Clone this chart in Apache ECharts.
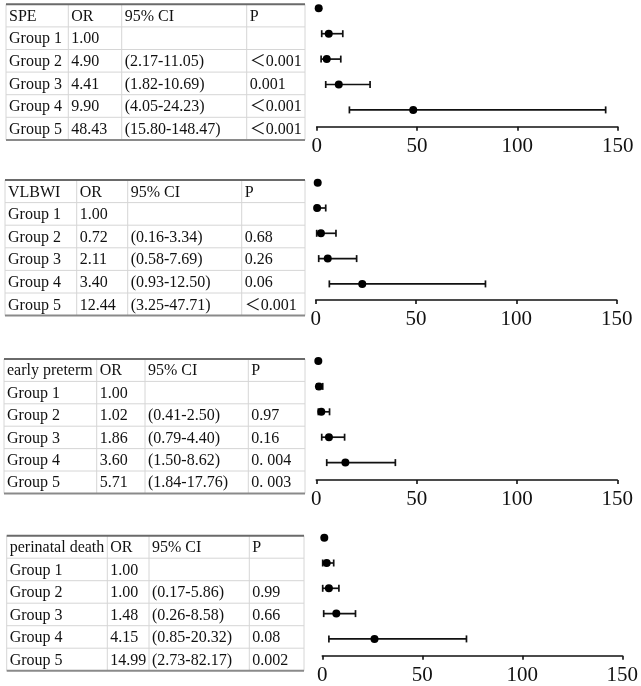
<!DOCTYPE html>
<html>
<head>
<meta charset="utf-8">
<script src="https://cdn.jsdelivr.net/npm/echarts@6/dist/echarts.min.js"></script>
<style>
html,body{margin:0;padding:0;background:#fff;}
#chart{width:641px;height:686px;}
</style>
</head>
<body>
<div id="chart"></div>
<script>
// ---------- DATA ----------
const groups = ['Group 1', 'Group 2', 'Group 3', 'Group 4', 'Group 5'];
const headerCols = ['OR', '95% CI', 'P'];
const xTicks = [0, 50, 100, 150];

// SPE
const speTitle = 'SPE';
const speOR = ['1.00', '4.90', '4.41', '9.90', '48.43'];
const speCI = ['', '(2.17-11.05)', '(1.82-10.69)', '(4.05-24.23)', '(15.80-148.47)'];
const speP = ['', '＜0.001', '0.001', '＜0.001', '＜0.001'];
const speEst = [1.0, 6.0, 5.0, 11.0, 48.1];
const speLow = [null, 2.5, 2.2, 4.5, 16.3];
const speHigh = [null, 13.0, 12.0, 26.6, 144.0];

// VLBWI
const vlbwiTitle = 'VLBWI';
const vlbwiOR = ['1.00', '0.72', '2.11', '3.40', '12.44'];
const vlbwiCI = ['', '(0.16-3.34)', '(0.58-7.69)', '(0.93-12.50)', '(3.25-47.71)'];
const vlbwiP = ['', '0.68', '0.26', '0.06', '＜0.001'];
const vlbwiEst = [1.0, 0.7, 2.6, 6.0, 23.2];
const vlbwiLow = [null, 0.3, 0.5, 1.5, 6.8];
const vlbwiHigh = [null, 5.0, 10.1, 20.4, 84.6];

// early preterm
const eptTitle = 'early preterm';
const eptOR = ['1.00', '1.02', '1.86', '3.60', '5.71'];
const eptCI = ['', '(0.41-2.50)', '(0.79-4.40)', '(1.50-8.62)', '(1.84-17.76)'];
const eptP = ['', '0.97', '0.16', '0. 004', '0. 003'];
const eptEst = [1.0, 1.3, 2.5, 6.3, 14.5];
const eptLow = [null, 0.3, 1.0, 2.7, 5.2];
const eptHigh = [null, 3.2, 6.6, 14.1, 39.4];

// perinatal death
const pdTitle = 'perinatal death';
const pdOR = ['1.00', '1.00', '1.48', '4.15', '14.99'];
const pdCI = ['', '(0.17-5.86)', '(0.26-8.58)', '(0.85-20.32)', '(2.73-82.17)'];
const pdP = ['', '0.99', '0.66', '0.08', '0.002'];
const pdEst = [1.0, 2.2, 3.3, 7.0, 26.1];
const pdLow = [null, 0.2, 0.2, 0.7, 3.3];
const pdHigh = [null, 5.7, 8.3, 16.6, 72.1];

// ---------- LAYOUT ----------
const FONT = '"Liberation Serif", "Times New Roman", "Noto Sans CJK SC", serif';
const panels = [
  {title: speTitle, or: speOR, ci: speCI, p: speP, est: speEst, low: speLow, high: speHigh,
   tTop: 4.3, rowH: 22.6, tLeft: 6, cols: [68.3, 121.7, 246.7], tRight: 305,
   x0: 316.7, x1: 617.7, row0: 8.3, spacing: 25.4, axisY: 126.7},
  {title: vlbwiTitle, or: vlbwiOR, ci: vlbwiCI, p: vlbwiP, est: vlbwiEst, low: vlbwiLow, high: vlbwiHigh,
   tTop: 180, rowH: 22.6, tLeft: 5, cols: [76.7, 127.7, 241.7], tRight: 305,
   x0: 315.7, x1: 616.7, row0: 182.7, spacing: 25.3, axisY: 300},
  {title: eptTitle, or: eptOR, ci: eptCI, p: eptP, est: eptEst, low: eptLow, high: eptHigh,
   tTop: 359, rowH: 22.4, tLeft: 4, cols: [96.7, 145, 248.3], tRight: 305,
   x0: 316.3, x1: 617.3, row0: 361, spacing: 25.4, axisY: 480},
  {title: pdTitle, or: pdOR, ci: pdCI, p: pdP, est: pdEst, low: pdLow, high: pdHigh,
   tTop: 535.7, rowH: 22.5, tLeft: 6.7, cols: [107.3, 149, 249.3], tRight: 304,
   x0: 322.3, x1: 623.3, row0: 537.7, spacing: 25.3, axisY: 655.7}
];

const chart = echarts.init(document.getElementById('chart'), null, {renderer: 'canvas'});

const grids = [], xAxes = [], yAxes = [], series = [], graphics = [];

panels.forEach((pn, k) => {
  // ----- table -----
  const nRows = groups.length + 1;
  const tBottom = pn.tTop + pn.rowH * nRows;
  for (let r = 1; r < nRows; r++) {
    const y = pn.tTop + pn.rowH * r;
    graphics.push({type: 'line', shape: {x1: pn.tLeft, y1: y, x2: pn.tRight, y2: y},
      style: {stroke: '#d6d6d6', lineWidth: 1}, silent: true});
  }
  [pn.tLeft].concat(pn.cols, [pn.tRight]).forEach(x => {
    graphics.push({type: 'line', shape: {x1: x, y1: pn.tTop, x2: x, y2: tBottom},
      style: {stroke: '#d6d6d6', lineWidth: 1}, silent: true});
  });
  graphics.push({type: 'line', shape: {x1: pn.tLeft, y1: pn.tTop, x2: pn.tRight, y2: pn.tTop},
    style: {stroke: '#6a6a6a', lineWidth: 2}, silent: true});
  graphics.push({type: 'line', shape: {x1: pn.tLeft, y1: tBottom, x2: pn.tRight, y2: tBottom},
    style: {stroke: '#8a8a8a', lineWidth: 2}, silent: true});
  const colX = [pn.tLeft].concat(pn.cols);
  const rowsText = [[pn.title].concat(headerCols)];
  groups.forEach((g, i) => rowsText.push([g, pn.or[i], pn.ci[i], pn.p[i]]));
  rowsText.forEach((row, r) => {
    const cy = pn.tTop + pn.rowH * (r + 0.5);
    row.forEach((txt, c) => {
      if (!txt) return;
      graphics.push({type: 'text', x: colX[c] + 3, y: cy + 1,
        style: {text: txt, fill: '#111', font: '16px ' + FONT, textVerticalAlign: 'middle', textAlign: 'left'},
        silent: true});
    });
  });

  // ----- forest plot -----
  grids.push({left: pn.x0, width: pn.x1 - pn.x0, top: pn.row0, height: pn.axisY - pn.row0, containLabel: false});
  xAxes.push({type: 'value', gridIndex: k, position: 'bottom',
    min: xTicks[0], max: xTicks[xTicks.length - 1], interval: xTicks[1] - xTicks[0],
    axisLine: {show: true, onZero: false, lineStyle: {color: '#111', width: 1.6}},
    axisTick: {show: true, length: 4, lineStyle: {color: '#111', width: 1.6}},
    axisLabel: {color: '#111', fontSize: 21, fontFamily: FONT, margin: 9},
    splitLine: {show: false}});
  yAxes.push({type: 'value', gridIndex: k, inverse: true, min: 0, max: (pn.axisY - pn.row0) / pn.spacing,
    show: false, splitLine: {show: false}});
  const barData = [];
  groups.forEach((g, i) => {
    if (pn.low[i] != null) barData.push([pn.low[i], pn.high[i], i]);
  });
  series.push({
    type: 'custom', xAxisIndex: k, yAxisIndex: k, clip: false, silent: true,
    data: barData,
    encode: {x: [0, 1], y: 2},
    renderItem: function (params, api) {
      const a = api.coord([api.value(0), api.value(2)]);
      const b = api.coord([api.value(1), api.value(2)]);
      const h = 3.5;
      const st = {stroke: '#111', lineWidth: 1.7};
      return {type: 'group', children: [
        {type: 'line', shape: {x1: a[0], y1: a[1], x2: b[0], y2: b[1]}, style: st},
        {type: 'line', shape: {x1: a[0], y1: a[1] - h, x2: a[0], y2: a[1] + h}, style: st},
        {type: 'line', shape: {x1: b[0], y1: b[1] - h, x2: b[0], y2: b[1] + h}, style: st}
      ]};
    }
  });
  series.push({
    type: 'scatter', xAxisIndex: k, yAxisIndex: k, clip: false, silent: true,
    symbol: 'circle', symbolSize: 8, itemStyle: {color: '#000', opacity: 1},
    data: pn.est.map((v, i) => [v, i]), z: 3
  });
});

chart.setOption({
  animation: false,
  backgroundColor: '#fff',
  grid: grids, xAxis: xAxes, yAxis: yAxes, series: series,
  graphic: graphics
});
</script>
</body>
</html>
